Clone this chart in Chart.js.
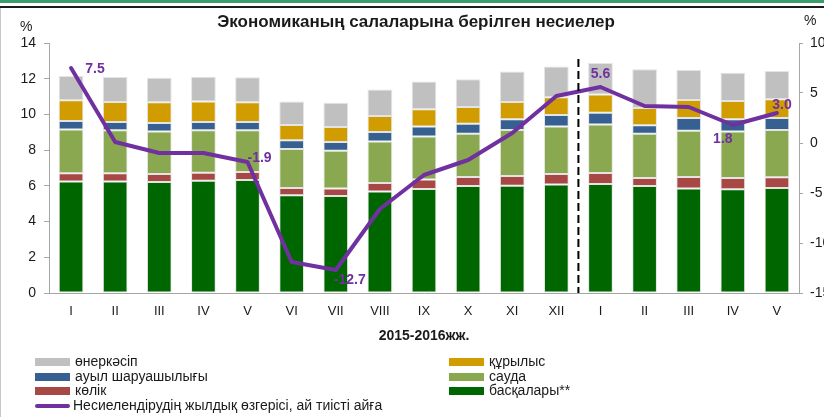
<!DOCTYPE html>
<html>
<head>
<meta charset="utf-8">
<script src="https://cdn.jsdelivr.net/npm/chart.js@4.4.1/dist/chart.umd.min.js"></script>
<style>
  html, body { margin: 0; padding: 0; background: #fff; }
  body { width: 824px; height: 417px; position: relative; overflow: hidden;
         font-family: "Liberation Sans", Arial, sans-serif; color: #1a1a1a; }
  #band { position: absolute; left: 0; top: 0; width: 824px; height: 3px; background: #3a9e6b; }
  #rule { position: absolute; left: 0; top: 6px; width: 824px; height: 2px; background: #1a1a1a; }
  #edge { position: absolute; left: 0; top: 8px; width: 1px; height: 409px; background: #c8c8c8; }
  #chart { position: absolute; left: 0; top: 0; }
  .txt { position: absolute; white-space: nowrap; }
  #title { left: 0; width: 832px; top: 12px; text-align: center; font-weight: bold; font-size: 17px; line-height: 20px; }
  #pctL { left: 20px; top: 18px; font-size: 14px; }
  #pctR { left: 804px; top: 12px; font-size: 14px; }
  #xTitle { left: 0; width: 848px; top: 327px; text-align: center; font-weight: bold; font-size: 14px; }
  #legend { position: absolute; left: 35px; top: 354px; }
  .item { position: absolute; height: 15px; font-size: 14px; line-height: 15px; white-space: nowrap; }
  .box { position: absolute; left: 0; top: 4px; width: 35px; height: 8px; }
  .lab { position: absolute; left: 40px; top: 0; }
  .ln { position: absolute; left: 0; top: 6px; width: 35px; height: 4px; border-radius: 2px; }
</style>
</head>
<body>
<div id="band"></div>
<div id="rule"></div>
<div id="edge"></div>
<canvas id="chart" width="824" height="417"></canvas>
<div class="txt" id="title">Экономиканың салаларына берілген несиелер</div>
<div class="txt" id="pctL">%</div>
<div class="txt" id="pctR">%</div>
<div class="txt" id="xTitle">2015-2016жж.</div>
<div id="legend"></div>
<script>
// 2015: I..XII, 2016: I..V
const months = ["I", "II", "III", "IV", "V", "VI", "VII", "VIII", "IX", "X", "XI", "XII",
                "I", "II", "III", "IV", "V"];

// stacked shares, % (bottom to top)
const baskalary = [6.25, 6.25, 6.22, 6.29, 6.33, 5.47, 5.43, 5.68, 5.82, 5.99, 6.01, 6.07, 6.10, 5.99, 5.85, 5.81, 5.88];
const kolik     = [0.45, 0.45, 0.44, 0.45, 0.44, 0.41, 0.42, 0.48, 0.53, 0.51, 0.54, 0.59, 0.62, 0.45, 0.65, 0.63, 0.60];
const sauda     = [2.45, 2.41, 2.39, 2.37, 2.34, 2.18, 2.12, 2.33, 2.42, 2.42, 2.58, 2.67, 2.71, 2.48, 2.59, 2.61, 2.65];
const auyl      = [0.48, 0.46, 0.47, 0.46, 0.46, 0.49, 0.49, 0.52, 0.56, 0.56, 0.60, 0.64, 0.67, 0.47, 0.71, 0.68, 0.67];
const kurylys   = [1.16, 1.12, 1.16, 1.16, 1.11, 0.86, 0.83, 0.90, 0.96, 0.93, 0.96, 0.99, 1.01, 0.97, 1.01, 1.02, 1.05];
const onerkasip = [1.36, 1.40, 1.38, 1.38, 1.40, 1.31, 1.37, 1.48, 1.56, 1.56, 1.71, 1.72, 1.77, 2.17, 1.68, 1.59, 1.58];

// annual change of lending, % (right axis)
const growth = [7.5, 0.1, -1.0, -1.0, -1.9, -11.9, -12.7, -6.6, -3.2, -1.7, 1.0, 4.7, 5.6, 3.7, 3.6, 1.8, 3.0];

// which points get a value label, and where the text sits relative to the point
const labelled = [0, 4, 6, 12, 15, 16];
const labelShift = { 0: [24, 1], 4: [12, -4], 6: [14, 10], 12: [0, -13], 15: [-10, 14], 16: [5, -8] };

const leftTicks = { min: 0, max: 14, step: 2 };
const rightTicks = { min: -15, max: 10, step: 5 };

const axisGray = "#a6a6a6";
const tickFont = { family: "'Liberation Sans', Arial, sans-serif", size: 14 };

function bar(label, data, color) {
  return {
    type: "bar", label, data, backgroundColor: color,
    borderColor: "rgba(225,225,225,0.9)", borderWidth: 1, borderSkipped: false,
    yAxisID: "y", stack: "s", order: 2,
    barPercentage: 0.56, categoryPercentage: 1
  };
}

const lineSet = {
  type: "line", label: "Несиелендірудің жылдық өзгерісі, ай тиісті айға",
  data: growth, borderColor: "#7030a0", backgroundColor: "#7030a0",
  borderWidth: 4, pointRadius: 0, tension: 0, yAxisID: "y1", order: 0,
  borderCapStyle: "round", borderJoinStyle: "round"
};

const bars = [
  bar("басқалары**", baskalary, "#006600"),
  bar("көлік", kolik, "#a84844"),
  bar("сауда", sauda, "#8aa84f"),
  bar("ауыл шаруашылығы", auyl, "#366092"),
  bar("құрылыс", kurylys, "#d09c00"),
  bar("өнеркәсіп", onerkasip, "#c0c0c0")
];

const pointLabels = {
  id: "pointLabels",
  afterDatasetsDraw(chart) {
    const meta = chart.getDatasetMeta(0);
    const ctx = chart.ctx;
    ctx.save();
    ctx.font = "bold 14px 'Liberation Sans', Arial, sans-serif";
    ctx.fillStyle = "#7030a0";
    ctx.textAlign = "center";
    ctx.textBaseline = "middle";
    for (const i of labelled) {
      const p = meta.data[i];
      const [dx, dy] = labelShift[i];
      ctx.fillText(growth[i].toFixed(1), p.x + dx, p.y + dy);
    }
    ctx.restore();
  }
};

// dashed split between 2015 and 2016
const yearSplit = {
  id: "yearSplit",
  afterDatasetsDraw(chart) {
    const x = chart.scales.x;
    const y = chart.scales.y;
    const px = (x.getPixelForValue(11) + x.getPixelForValue(12)) / 2;
    const ctx = chart.ctx;
    ctx.save();
    ctx.strokeStyle = "#000";
    ctx.lineWidth = 2;
    ctx.setLineDash([8, 4]);
    ctx.beginPath();
    ctx.moveTo(px, y.getPixelForValue(13.1));
    ctx.lineTo(px, chart.chartArea.bottom);
    ctx.stroke();
    ctx.restore();
  }
};

new Chart(document.getElementById("chart"), {
  data: { labels: months, datasets: [lineSet, ...bars] },
  options: {
    responsive: false,
    animation: false,
    devicePixelRatio: 1,
    layout: { padding: { top: 43, bottom: 94, left: 0, right: 0 } },
    plugins: { legend: { display: false }, title: { display: false }, tooltip: { enabled: false } },
    scales: {
      x: {
        stacked: true,
        grid: { display: false, drawTicks: false },
        border: { display: true, color: axisGray, width: 1 },
        ticks: { color: "#1a1a1a", font: { ...tickFont, size: 13 }, padding: 11, maxRotation: 0, autoSkip: false },
        afterFit(s) { s.height = 30; }
      },
      y: {
        position: "left", stacked: true,
        min: leftTicks.min, max: leftTicks.max,
        grid: { drawOnChartArea: false, drawTicks: true, tickLength: 5, color: axisGray },
        border: { display: true, color: axisGray, width: 1 },
        ticks: { stepSize: leftTicks.step, color: "#1a1a1a", font: tickFont, padding: 8 },
        afterFit(s) { s.width = 49; }
      },
      y1: {
        position: "right",
        min: rightTicks.min, max: rightTicks.max,
        grid: { drawOnChartArea: false, drawTicks: true, tickLength: 4, color: axisGray },
        border: { display: true, color: axisGray, width: 1 },
        ticks: { stepSize: rightTicks.step, color: "#1a1a1a", font: tickFont, padding: 7 },
        afterFit(s) { s.width = 25; }
      }
    }
  },
  plugins: [pointLabels, yearSplit]
});

// legend: two columns laid out like the original
const legendCols = [
  [bars[5], bars[3], bars[1], lineSet],
  [bars[4], bars[2], bars[0]]
];
const legend = document.getElementById("legend");
legendCols.forEach((col, c) => {
  col.forEach((ds, r) => {
    const item = document.createElement("div");
    item.className = "item";
    item.style.left = (c * 414) + "px";
    item.style.top = (r * 14.7) + "px";
    const mark = document.createElement("div");
    const isLine = ds.type === "line";
    mark.className = isLine ? "ln" : "box";
    mark.style.background = isLine ? ds.borderColor : ds.backgroundColor;
    const lab = document.createElement("div");
    lab.className = "lab";
    lab.style.left = isLine ? "38px" : "40px";
    lab.textContent = ds.label;
    item.appendChild(mark);
    item.appendChild(lab);
    legend.appendChild(item);
  });
});
</script>
</body>
</html>
